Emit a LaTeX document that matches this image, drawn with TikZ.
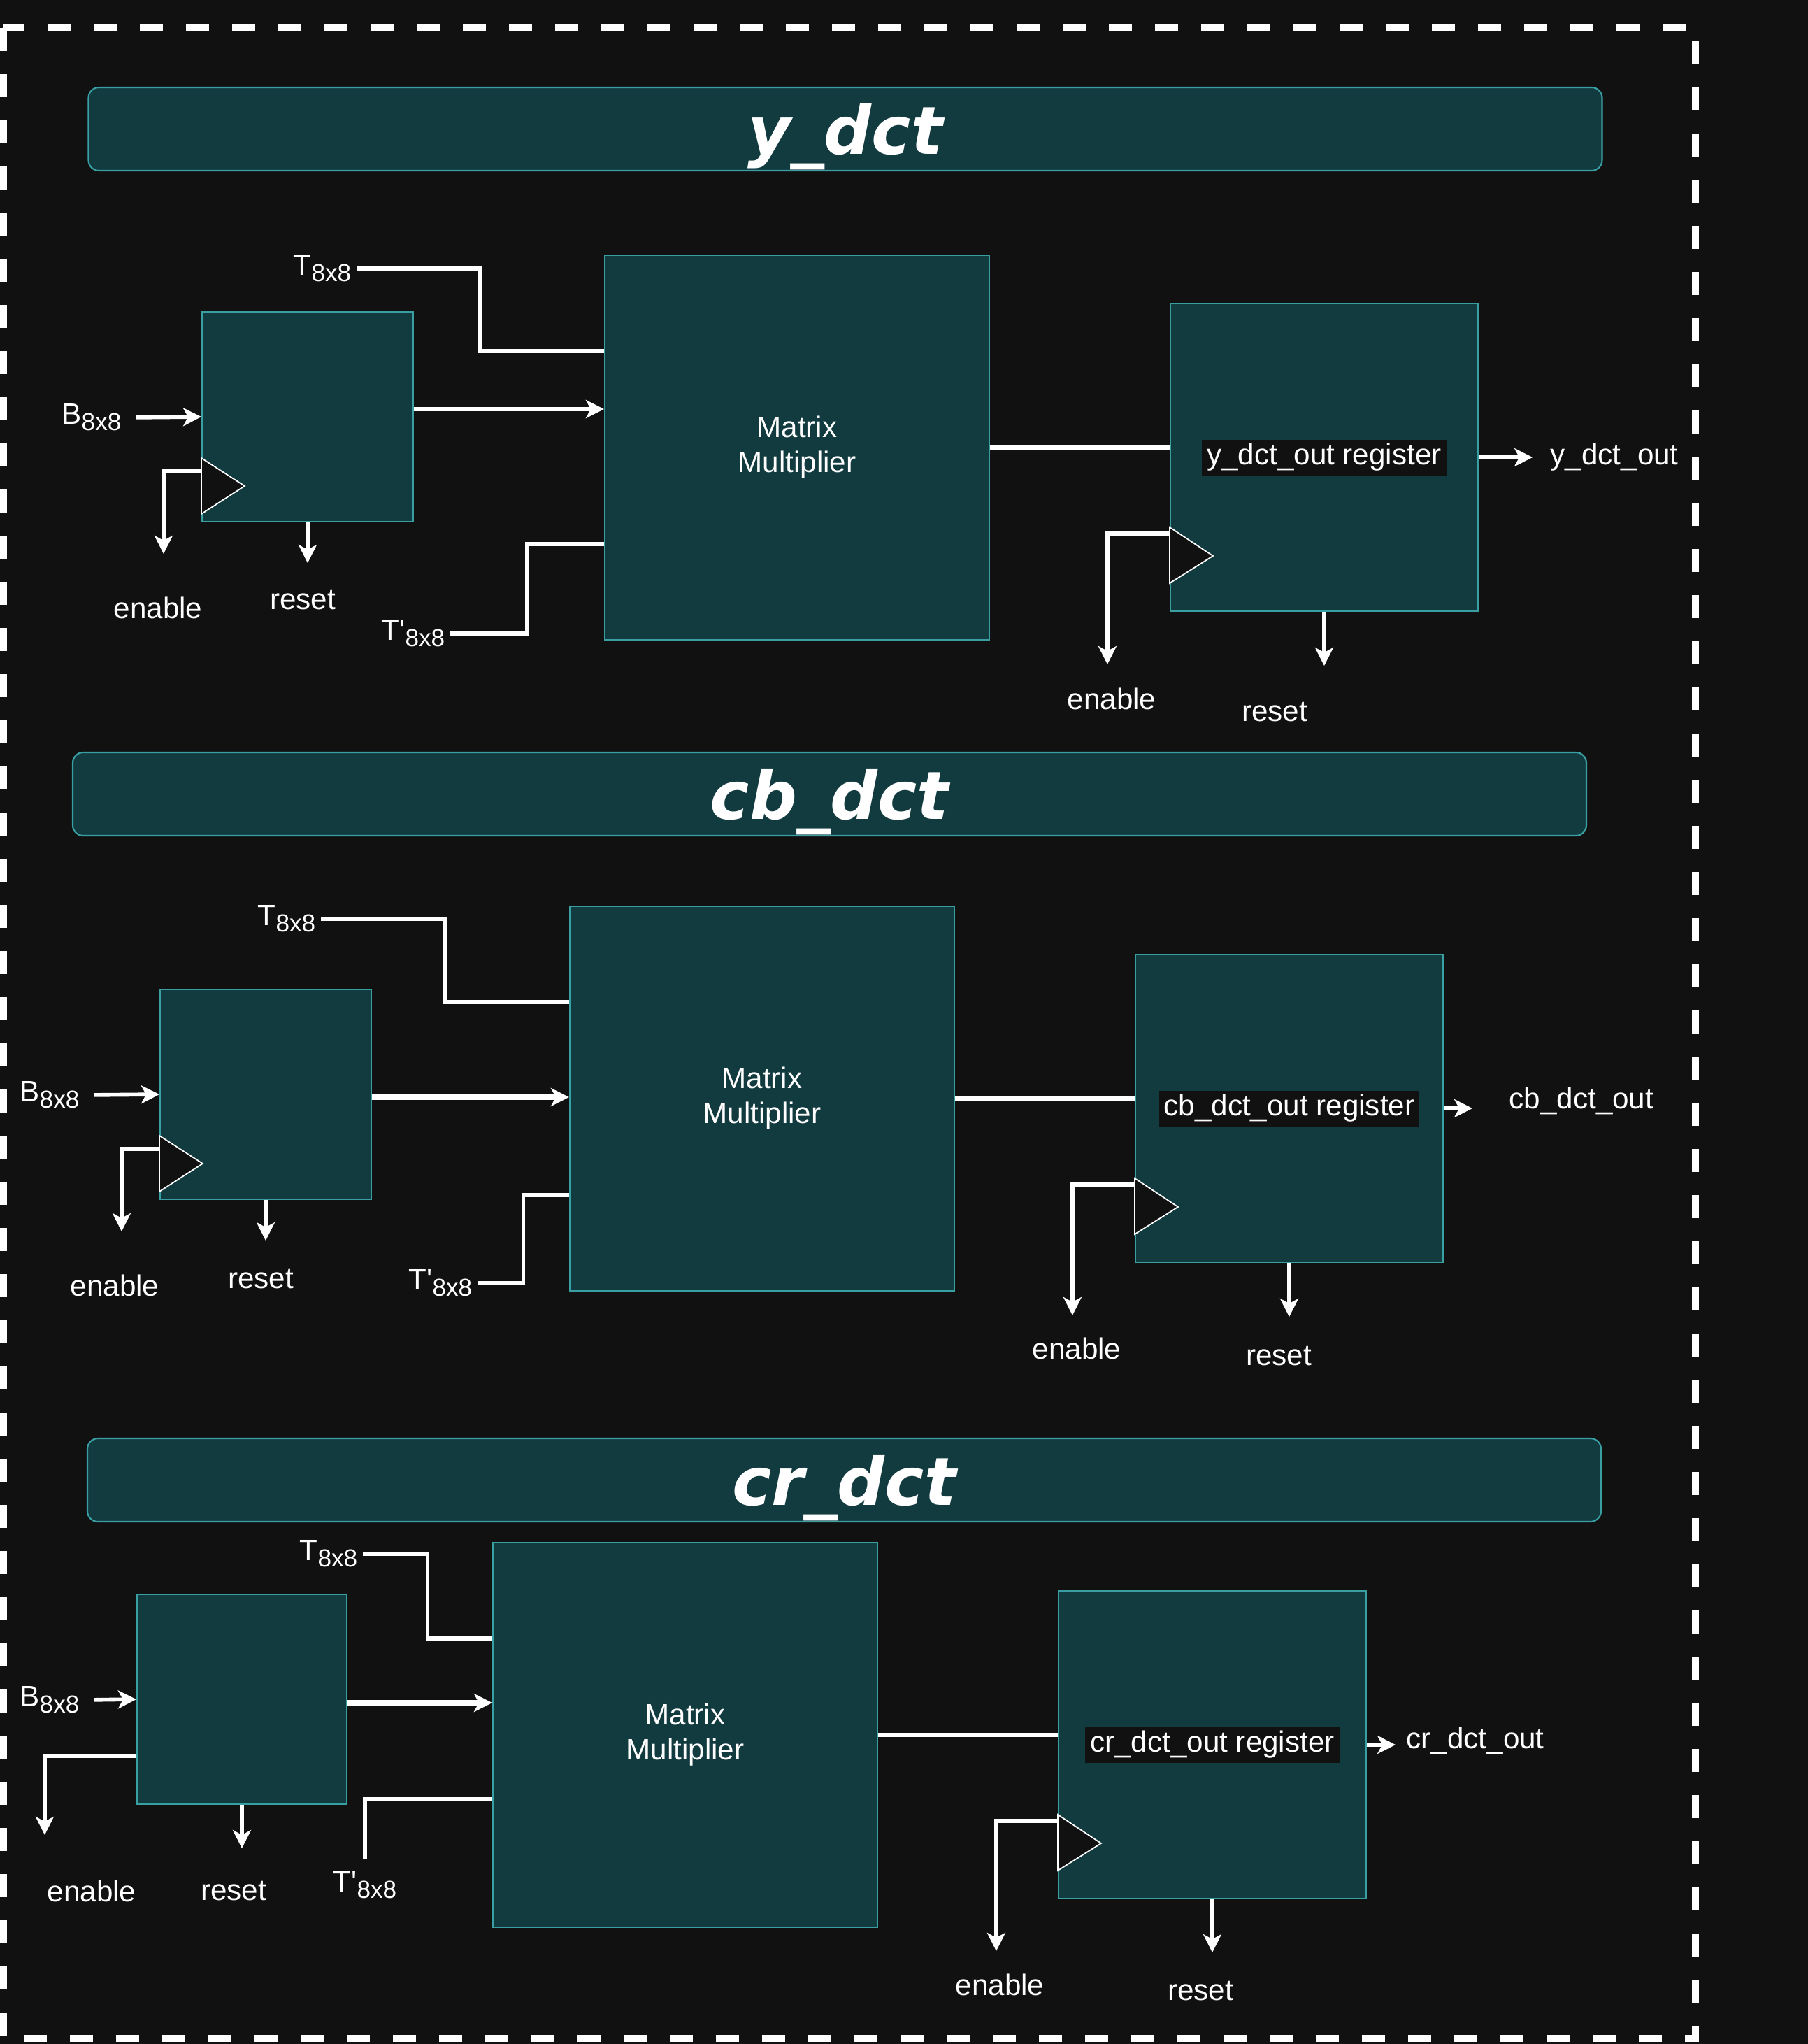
\documentclass[tikz,border=0pt]{standalone}
\usepackage{fontspec}
\setmainfont{Liberation Sans}
\newfontfamily\titlefont{DejaVu Sans}
\usepackage{xcolor}
\usepackage{tikz}
\usetikzlibrary{arrows.meta,positioning,calc}

\definecolor{bgdark}{HTML}{111111}
\definecolor{tealfill}{HTML}{123B40}
\definecolor{tealline}{HTML}{3A9FA3}
\newcommand{\eightxeight}{\raisebox{-2.6pt}{\fontsize{10pt}{12pt}\selectfont 8x8}}

\begin{document}
\begin{tikzpicture}[
  banner/.style={draw=tealline, fill=tealfill, rounded corners=0.15cm, line width=0.6pt, minimum width=21.65cm, minimum height=1.19cm, text height=0.94cm, text depth=0.23cm, inner ysep=0cm, text=white, font=\titlefont\bfseries\itshape\fontsize{27pt}{32pt}\selectfont},
  regbox/.style={draw=tealline, fill=tealfill, line width=0.6pt, minimum width=3.02cm, minimum height=3cm},
  mult/.style={regbox, minimum width=5.5cm, minimum height=5.5cm, align=center, text=white, font=\fontsize{12pt}{14.2pt}\selectfont},
  outreg/.style={regbox, minimum width=4.4cm, minimum height=4.4cm},
  tag/.style={fill=bgdark, text=white, inner xsep=0.07cm, inner ysep=0cm, minimum height=0.51cm, font=\fontsize{12pt}{14.4pt}\selectfont},
  lbl/.style={text=white, inner sep=0.07cm, font=\fontsize{12pt}{14.4pt}\selectfont},
  clk/.style={fill=bgdark, draw=white, line width=0.5pt},
  wire/.style={white, line width=1.6pt},
  arr/.style={wire, -{Stealth[length=0.26cm, width=0.26cm, inset=0.07cm]}},
  fatarr/.style={arr, line width=2.2pt}
]
\useasboundingbox (0,0) rectangle (25.86,-29.23);
\fill[bgdark] (0,0) rectangle (25.86,-29.23);
\draw[white, line width=0.1cm, dash pattern=on 0.33cm off 0.33cm] (0.05,-0.40) rectangle (24.25,-29.15);

% y_dct
\node[banner] (ybar) at (12.09,-1.845) {y\_dct};
\node[regbox] (sreg1) at (4.40,-5.96) {};
\node[mult] (mm1) at (11.40,-6.40) {Matrix\\Multiplier};
\node[outreg] (out1) at (18.94,-6.54) {};
\node[tag] (ytag) at (out1.center) {y\_dct\_out register};
\draw[clk] ($(sreg1.north west)+(0,-2.1)$) -- ($(sreg1.north west)+(0.62,-2.5)$) -- ($(sreg1.north west)+(0,-2.9)$) -- cycle;
\draw[clk] ($(out1.north west)+(0,-3.21)$) -- ($(out1.north west)+(0.62,-3.62)$) -- ($(out1.north west)+(0,-4.01)$) -- cycle;

\node[lbl] (b1) at (1.31,-5.97) {B\eightxeight};
\node[lbl] (t1) at (4.61,-3.84) {T\eightxeight};
\node[lbl] (tp1) at (5.91,-9.06) {T\textquotesingle\eightxeight};
\node[lbl] (en1) at (2.26,-8.69) {enable};
\node[lbl] (rs1) at (4.33,-8.58) {reset};
\node[lbl] (oen1) at (15.90,-9.99) {enable};
\node[lbl] (ors1) at (18.23,-10.18) {reset};
\node[lbl, right=0.95cm of out1.east] (yout) {y\_dct\_out};

\coordinate (t1in) at ($(mm1.north west)!0.25!(mm1.south west)$);
\coordinate (tp1in) at ($(mm1.north west)!0.75!(mm1.south west)$);
\coordinate (en1end) at ($(sreg1.north west)+(-0.54,-3.47)$);
\coordinate (rs1end) at ($(sreg1.south)+(0,-0.58)$);
\coordinate (oen1end) at ($(out1.north west)+(-0.89,-5.17)$);
\coordinate (ors1end) at ($(out1.south)+(0,-0.77)$);
\draw[arr, shorten <=0.14cm] (b1.east) -- (sreg1.west);
\draw[arr] ([yshift=0.11cm]sreg1.east) -- ([yshift=0.11cm]sreg1.east -| mm1.west);
\draw[wire] (t1.east) -| ($(t1.east)!0.5!(t1in)$) |- (t1in);
\draw[wire] (tp1.east) -| ($(tp1.east)!0.5!(tp1in)$) |- (tp1in);
\draw[arr] ($(sreg1.north west)+(0,-2.29)$) -| (en1end);
\draw[arr] (sreg1.south) -- (rs1end);
\draw[wire] (mm1.east) -- (mm1.east -| out1.west);
\draw[arr] ($(out1.north west)+(0,-3.30)$) -| (oen1end);
\draw[arr] (out1.south) -- (ors1end);
\draw[arr, shorten >=0.18cm] (out1.east) -- (yout.west);

% cb_dct
\node[banner] (cbbar) at (11.865,-11.355) {cb\_dct};
\node[regbox] (sreg2) at (3.80,-15.65) {};
\node[mult] (mm2) at (10.90,-15.71) {Matrix\\Multiplier};
\node[outreg] (out2) at (18.44,-15.85) {};
\node[tag] (cbtag) at (out2.center) {cb\_dct\_out register};
\draw[clk] ($(sreg2.north west)+(0,-2.1)$) -- ($(sreg2.north west)+(0.62,-2.5)$) -- ($(sreg2.north west)+(0,-2.9)$) -- cycle;
\draw[clk] ($(out2.north west)+(0,-3.21)$) -- ($(out2.north west)+(0.62,-3.62)$) -- ($(out2.north west)+(0,-4.01)$) -- cycle;

\node[lbl] (b2) at (0.71,-15.66) {B\eightxeight};
\node[lbl] (t2) at (4.10,-13.14) {T\eightxeight};
\node[lbl] (tp2) at (6.30,-18.35) {T\textquotesingle\eightxeight};
\node[lbl] (en2) at (1.64,-18.38) {enable};
\node[lbl] (rs2) at (3.73,-18.29) {reset};
\node[lbl] (oen2) at (15.40,-19.28) {enable};
\node[lbl] (ors2) at (18.29,-19.39) {reset};
\node[lbl, anchor=west] (cbout) at ($(out2.east)+(0.86,0.11)$) {cb\_dct\_out};

\coordinate (t2in) at ($(mm2.north west)!0.25!(mm2.south west)$);
\coordinate (tp2in) at ($(mm2.north west)!0.75!(mm2.south west)$);
\coordinate (en2end) at ($(sreg2.north west)+(-0.54,-3.47)$);
\coordinate (rs2end) at ($(sreg2.south)+(0,-0.58)$);
\coordinate (oen2end) at ($(out2.north west)+(-0.89,-5.17)$);
\coordinate (ors2end) at ($(out2.south)+(0,-0.77)$);
\coordinate (cbtip) at ($(out2.east)+(0.41,0)$);
\draw[arr, shorten <=0.14cm] (b2.east) -- (sreg2.west);
\draw[fatarr] ([yshift=-0.04cm]sreg2.east) -- ([yshift=-0.04cm]sreg2.east -| mm2.west);
\draw[wire] (t2.east) -| ($(t2.east)!0.5!(t2in)$) |- (t2in);
\draw[wire] (tp2.east) -| ($(tp2.east)!0.5!(tp2in)$) |- (tp2in);
\draw[arr] ($(sreg2.north west)+(0,-2.29)$) -| (en2end);
\draw[arr] (sreg2.south) -- (rs2end);
\draw[wire] (mm2.east) -- (mm2.east -| out2.west);
\draw[arr] ($(out2.north west)+(0,-3.30)$) -| (oen2end);
\draw[arr] (out2.south) -- (ors2end);
\draw[arr] (out2.east) -- (cbtip);

% cr_dct
\node[banner] (crbar) at (12.075,-21.165) {cr\_dct};
\node[regbox, minimum width=3cm] (sreg3) at (3.46,-24.30) {};
\node[mult] (mm3) at (9.80,-24.81) {Matrix\\Multiplier};
\node[outreg] (out3) at (17.34,-24.95) {};
\node[tag] (crtag) at (out3.center) {cr\_dct\_out register};
\draw[clk] ($(out3.north west)+(0,-3.21)$) -- ($(out3.north west)+(0.62,-3.62)$) -- ($(out3.north west)+(0,-4.01)$) -- cycle;

\node[lbl] (b3) at (0.71,-24.31) {B\eightxeight};
\node[lbl] (t3) at (4.70,-22.22) {T\eightxeight};
\node[lbl] (tp3) at (5.22,-26.96) {T\textquotesingle\eightxeight};
\node[lbl] (en3) at (1.31,-27.04) {enable};
\node[lbl] (rs3) at (3.34,-27.04) {reset};
\node[lbl] (oen3) at (14.30,-28.38) {enable};
\node[lbl] (ors3) at (17.17,-28.47) {reset};
\node[lbl, anchor=west] (crout) at ($(out3.east)+(0.49,0.06)$) {cr\_dct\_out};

\coordinate (t3in) at ($(mm3.north west)!0.25!(mm3.south west)$);
\coordinate (tp3in) at ($(mm3.north west)!0.667!(mm3.south west)$);
\coordinate (en3end) at ($(sreg3.north west)+(-1.31,-3.45)$);
\coordinate (rs3end) at ($(sreg3.south)+(0,-0.62)$);
\coordinate (oen3end) at ($(out3.north west)+(-0.88,-5.16)$);
\coordinate (ors3end) at ($(out3.south)+(0,-0.76)$);
\coordinate (crtip) at ($(out3.east)+(0.41,0)$);
\draw[arr, shorten <=0.14cm] (b3.east) -- (sreg3.west);
\draw[fatarr] ([yshift=-0.05cm]sreg3.east) -- ([yshift=-0.05cm]sreg3.east -| mm3.west);
\draw[wire] (t3.east) -| ($(t3.east)!0.5!(t3in)$) |- (t3in);
\draw[wire, shorten <=0.1cm] (tp3.north) |- (tp3in);
\draw[arr] ($(sreg3.north west)+(0,-2.32)$) -| (en3end);
\draw[arr] (sreg3.south) -- (rs3end);
\draw[wire] (mm3.east) -- (mm3.east -| out3.west);
\draw[arr] ($(out3.north west)+(0,-3.30)$) -| (oen3end);
\draw[arr] (out3.south) -- (ors3end);
\draw[arr] (out3.east) -- (crtip);
\end{tikzpicture}
\end{document}
